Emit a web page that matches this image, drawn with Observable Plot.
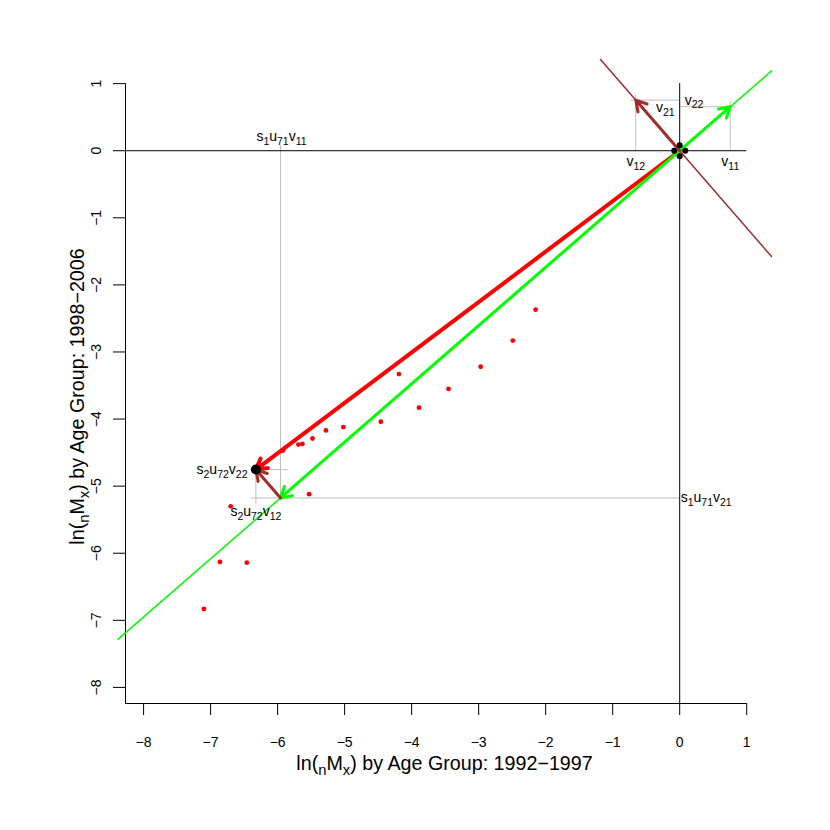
<!DOCTYPE html>
<html><head><meta charset="utf-8">
<script src="https://cdn.jsdelivr.net/npm/d3@7"></script>
<script src="https://cdn.jsdelivr.net/npm/@observablehq/plot@0.6"></script>
<style>body{margin:0;background:#fff} svg{display:block}</style>
</head><body><div id="chart"></div>
<script>
// ---- data ----
const ageX = [-7.10,-6.86,-6.46,-6.70,-6.32,-5.92,-5.69,-5.63,-5.53,-5.48,-5.28,-5.02,-4.46,-4.19,-3.89,-3.45,-2.97,-2.49,-2.15];
const ageY = [-6.83,-6.13,-6.14,-5.30,-4.75,-4.47,-4.38,-4.37,-5.12,-4.29,-4.17,-4.12,-4.04,-3.33,-3.83,-3.55,-3.22,-2.83,-2.37];
const v1 = [0.755, 0.656];   // v11, v21
const v2 = [-0.656, 0.755];  // v12, v22
const s1u71 = -7.89;
const s2u72 = 0.56;
const xTicks = [-8,-7,-6,-5,-4,-3,-2,-1,0,1];
const yTicks = [-8,-7,-6,-5,-4,-3,-2,-1,0,1];
const originDots = [[0,0.083],[-0.083,0],[0.083,0],[0,-0.083]];
const xTitle = "ln(_{n}M_{x}) by Age Group: 1992\u22121997";
const yTitle = "ln(_{n}M_{x}) by Age Group: 1998\u22122006";

// ---- derived geometry ----
const xDom = [-8.27, 1.37], yDom = [-8.24, 1.36];
const region = {x: [-8.38, 1.37], y: [-8.38, 1.36]};
const ext = 0.08;
const gx = s1u71 * v1[0], gy = s1u71 * v1[1];
const X7 = gx + s2u72 * v2[0], Y7 = gy + s2u72 * v2[1];

function clipLine(dir) {
  const s = dir[1] / dir[0];
  let lo = region.x[0], hi = region.x[1];
  const a = region.y[0] / s, b = region.y[1] / s;
  lo = Math.max(lo, Math.min(a, b)); hi = Math.min(hi, Math.max(a, b));
  return [{x: lo, y: s * lo}, {x: hi, y: s * hi}];
}
const points = ageX.map((x, i) => ({x, y: ageY[i]}));
const grey = [
  {x1: gx, y1: gy, x2: gx, y2: ext},
  {x1: X7 - ext, y1: gy, x2: 0, y2: gy},
  {x1: X7 - ext, y1: Y7, x2: gx + 0.11, y2: Y7},
  {x1: X7, y1: Y7, x2: X7, y2: gy - ext},
  {x1: v2[0], y1: 0, x2: v2[0], y2: v2[1] + ext},
  {x1: v2[0] - ext, y1: v2[1], x2: 0, y2: v2[1]},
  {x1: v1[0], y1: 0, x2: v1[0], y2: v1[1] + ext},
  {x1: 0, y1: v1[1], x2: v1[0] + ext, y2: v1[1]}
];
const labels = [
  {x: gx, y: ext, t: "s_{1}u_{71}v_{11}", a: "middle", dx: 1, dy: -8.5},
  {x: 0, y: gy, t: "s_{1}u_{71}v_{21}", a: "start", dx: 1, dy: 0},
  {x: X7 - ext, y: Y7, t: "s_{2}u_{72}v_{22}", a: "end", dx: -3, dy: 0},
  {x: X7, y: gy - ext, t: "s_{2}u_{72}v_{12}", a: "middle", dx: 0, dy: 8},
  {x: v2[0], y: 0, t: "v_{12}", a: "middle", dx: 0, dy: 10.5},
  {x: v1[0], y: 0, t: "v_{11}", a: "middle", dx: 0, dy: 10.5},
  {x: 0, y: v2[1], t: "v_{22}", a: "start", dx: 5, dy: 0},
  {x: 0, y: v1[1], t: "v_{21}", a: "end", dx: -5, dy: 0.5}
];

const RED = "#FF0000", GREEN = "#00FF00", BROWN = "#A52A2A", GREY = "#BEBEBE";
const fmt = d3.format("d");

const svg = Plot.plot({
  width: 830, height: 830,
  marginLeft: 125, marginRight: 59, marginTop: 59, marginBottom: 127,
  style: {fontFamily: "'Liberation Sans', Arial, Helvetica, sans-serif", fontSize: "14px", background: "#fff", color: "#000"},
  x: {domain: xDom},
  y: {domain: yDom},
  marks: [
    Plot.link(grey, {x1: "x1", y1: "y1", x2: "x2", y2: "y2", stroke: GREY, strokeWidth: 1}),
    Plot.ruleY([0], {x1: xDom[0], x2: xTicks[xTicks.length - 1], stroke: "#000", strokeWidth: 1}),
    Plot.ruleX([0], {y1: yDom[0], y2: yTicks[yTicks.length - 1], stroke: "#000", strokeWidth: 1}),
    Plot.ruleY([yDom[0]], {x1: xDom[0], x2: xTicks[xTicks.length - 1], stroke: "#000", strokeWidth: 1}),
    Plot.ruleX([xDom[0]], {y1: yDom[0], y2: yTicks[yTicks.length - 1], stroke: "#000", strokeWidth: 1}),
    Plot.axisX({ticks: xTicks, tickSize: 12, tickPadding: 22, fontSize: 14, label: null, tickFormat: fmt}),
    Plot.axisY({ticks: yTicks, tickSize: 12, tickFormat: () => "", label: null}),
    Plot.text(yTicks, {y: d => d, frameAnchor: "left", dx: -28.5, rotate: -90, text: d => fmt(d), fontSize: 14, textAnchor: "middle"}),
    Plot.line(clipLine(v2), {x: "x", y: "y", stroke: BROWN, strokeWidth: 1.5}),
    Plot.line(clipLine(v1), {x: "x", y: "y", stroke: GREEN, strokeWidth: 1.5}),
    Plot.dot(points, {x: "x", y: "y", r: 2.4, fill: RED, stroke: null}),
    Plot.arrow([{x1: 0, y1: 0, x2: X7, y2: Y7}], {x1: "x1", y1: "y1", x2: "x2", y2: "y2", stroke: RED, strokeWidth: 4, headLength: 4.5, headAngle: 60}),
    Plot.arrow([{x1: 0, y1: 0, x2: gx, y2: gy}, {x1: 0, y1: 0, x2: v1[0], y2: v1[1]}], {x1: "x1", y1: "y1", x2: "x2", y2: "y2", stroke: GREEN, strokeWidth: 3, headLength: 6, headAngle: 60}),
    Plot.arrow([{x1: 0, y1: 0, x2: v2[0], y2: v2[1]}, {x1: gx, y1: gy, x2: X7, y2: Y7}], {x1: "x1", y1: "y1", x2: "x2", y2: "y2", stroke: BROWN, strokeWidth: 3, headLength: 6, headAngle: 60}),
    Plot.dot(originDots, {x: d => d[0], y: d => d[1], r: 3, fill: "#000", stroke: null}),
    Plot.dot([{x: X7, y: Y7}], {x: "x", y: "y", r: 5, fill: "#000", stroke: null}),
    ...labels.map(l => Plot.text([l], {x: "x", y: "y", text: "t", textAnchor: l.a, dx: l.dx, dy: l.dy, fontSize: 14})),
    Plot.text([xTitle], {frameAnchor: "bottom", textAnchor: "middle", dy: 66, dx: -4, text: d => d, fontSize: 19.7}),
    Plot.text([yTitle], {frameAnchor: "left", textAnchor: "middle", dx: -48, dy: 15, rotate: -90, text: d => d, fontSize: 19.7})
  ]
});

document.getElementById("chart").appendChild(svg);

// subscript post-processing
d3.select(svg).selectAll("text").each(function () {
  const el = this;
  const s = el.textContent;
  if (!s.includes("_{")) return;
  const fs = parseFloat(getComputedStyle(el).fontSize) || 14;
  const shift = 0.28 * fs;
  while (el.firstChild) el.removeChild(el.firstChild);
  const re = /_\{([^}]*)\}/g;
  let last = 0, m, down = false;
  const add = (txt, sub) => {
    const t = document.createElementNS("http://www.w3.org/2000/svg", "tspan");
    t.textContent = txt;
    if (sub) { t.setAttribute("font-size", (0.75 * fs) + "px"); t.setAttribute("dy", shift); down = true; }
    else if (down) { t.setAttribute("dy", -shift); down = false; }
    el.appendChild(t);
  };
  while ((m = re.exec(s))) {
    if (m.index > last) add(s.slice(last, m.index), false);
    add(m[1], true);
    last = re.lastIndex;
  }
  if (last < s.length) add(s.slice(last), false);
});
</script>
</body></html>
